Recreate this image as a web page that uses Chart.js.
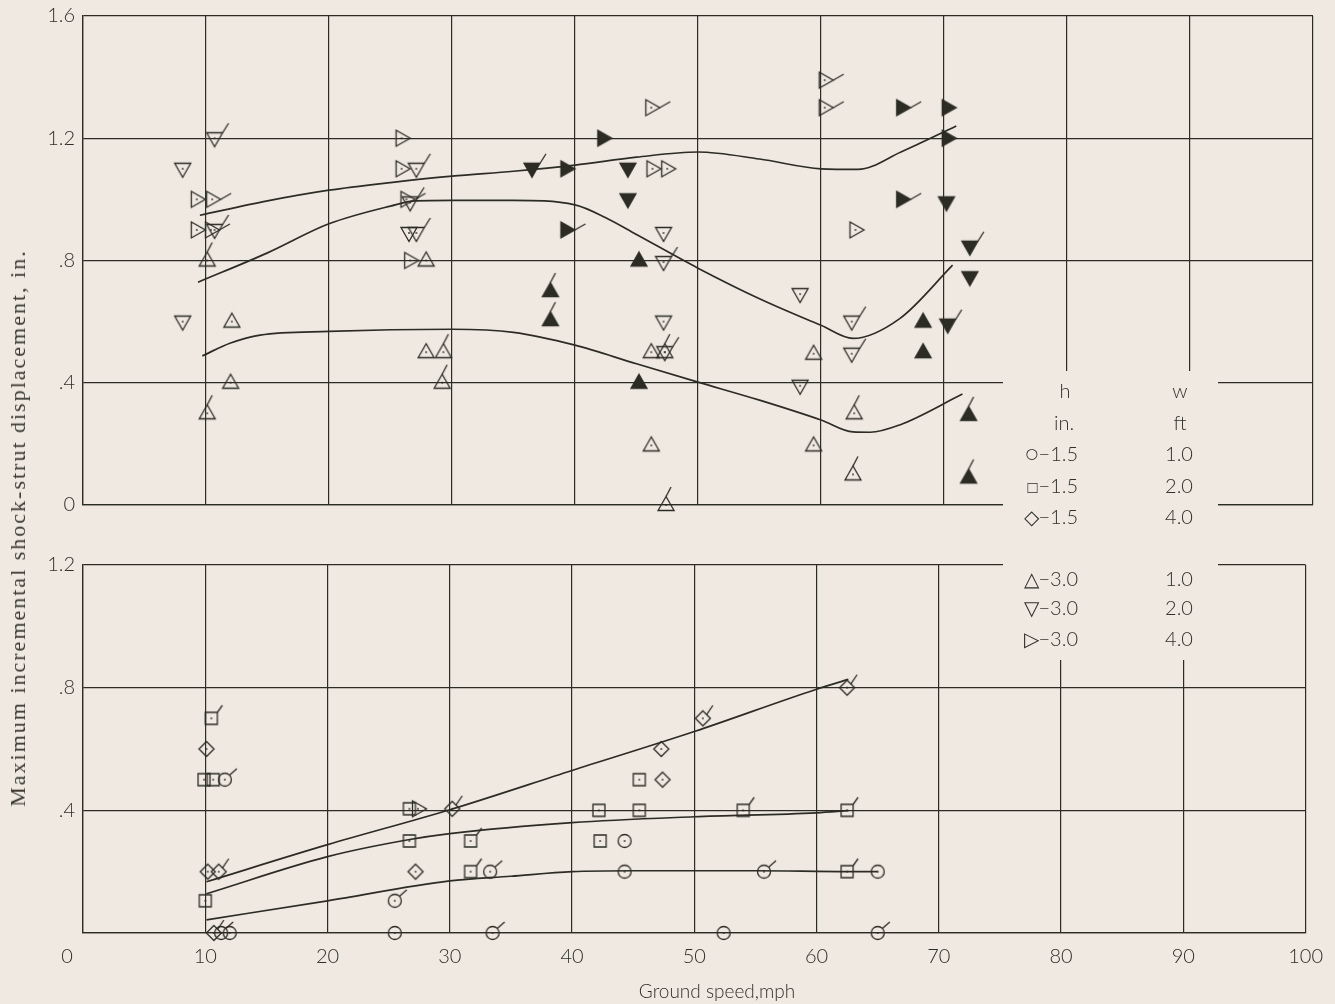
<!DOCTYPE html>
<html>
<head>
<meta charset="utf-8">
<script src="https://cdn.jsdelivr.net/npm/chart.js@4.4.1/dist/chart.umd.min.js"></script>
<style>
  html, body { margin: 0; padding: 0; background: #efe9e2; }
  #wrap { position: relative; width: 1335px; height: 1004px; overflow: hidden; }
  .box { position: absolute; left: 0; width: 1335px; }
  .t { position: absolute; font-family: Lato, 'Open Sans', sans-serif; font-weight: 300; color: #2f2f29; white-space: nowrap; }
  .c { transform: translate(-50%, -50%); }
  .r { transform: translate(-100%, -50%); }
</style>
</head>
<body>
<div id="wrap">
  <div class="box" style="top:-4px;height:529px"><canvas id="topChart"></canvas></div>
  <div class="box" style="top:540px;height:464px"><canvas id="botChart"></canvas></div>

  <div class="t c" style="left:18px;top:528px;transform:translate(-50%,-50%) rotate(-90deg);font-family:'Liberation Serif',serif;font-weight:400;font-size:22px;letter-spacing:2px;color:#3a3a33;">Maximum incremental shock-strut displacement, in.</div>
  <div class="t c" style="left:717px;top:990px;font-size:19px;">Ground speed,mph</div>
  <div class="t c" style="left:67px;top:955px;font-size:20px;">0</div>

  <div id="legend"></div>
</div>

<script>
// ---- data (mph, in.) ----
const xTickLabels   = ['', '10', '20', '30', '40', '50', '60', '70', '80', '90', '100'];
const topTickLabels = ['0', '.4', '.8', '1.2', '1.6'];
const botTickLabels = ['', '.4', '.8', '1.2'];

// upper panel, h = -3.0 in.
const triUpOpen        = [[12.1,0.6],[12.0,0.4],[27.9,0.8],[27.9,0.5],[46.2,0.5],[59.4,0.495],[46.2,0.195],[59.4,0.195]];
const triUpOpenFlag    = [[10.1,0.8],[10.1,0.3],[29.3,0.5],[29.2,0.4],[47.3,0.5],[62.7,0.3],[62.6,0.1],[47.4,0.0]];
const triUpFilled      = [[45.2,0.8],[68.3,0.6],[68.3,0.5],[45.2,0.4]];
const triUpFilledFlag  = [[38.0,0.7],[38.0,0.605],[72.0,0.295],[72.0,0.09]];
const triDnOpen        = [[8.1,1.1],[8.1,0.6],[26.5,0.89],[47.2,0.89],[58.3,0.69],[47.2,0.6],[58.3,0.39]];
const triDnOpenFlag    = [[10.7,1.2],[10.7,0.9],[27.1,1.1],[26.6,0.99],[27.1,0.89],[47.2,0.795],[62.5,0.6],[47.3,0.5],[62.5,0.495]];
const triDnFilled      = [[44.3,1.1],[44.3,1.0],[70.2,0.99],[72.1,0.745]];
const triDnFilledFlag  = [[36.5,1.1],[72.1,0.845],[70.3,0.59]];
const triRtOpen        = [[9.25,1.0],[9.25,0.9],[25.9,1.2],[25.9,1.1],[26.6,0.8],[46.3,1.1],[47.5,1.1],[62.8,0.9]];
const triRtOpenFlag    = [[10.5,1.0],[10.4,0.9],[26.3,1.0],[60.3,1.39],[60.3,1.3],[46.2,1.3]];
const triRtFilled      = [[70.3,1.3],[42.3,1.2],[70.3,1.2],[39.3,1.1]];
const triRtFilledFlag  = [[66.6,1.3],[66.6,1.0],[39.3,0.9]];

const curveA = [[9.5,0.948],[15,0.995],[20,1.03],[25,1.055],[30,1.076],[35,1.092],[40,1.112],[45,1.138],[50,1.155],[55,1.132],[60,1.10],[63,1.098],[66.5,1.155],[71,1.24]];
const curveB = [[9.35,0.729],[15,0.825],[20,0.92],[25,0.978],[27,0.995],[30,0.997],[35,0.997],[40,0.982],[42.5,0.94],[45,0.885],[50,0.775],[55,0.675],[60,0.588],[62.6,0.545],[66.4,0.61],[70.7,0.785]];
const curveC = [[9.7,0.488],[12,0.53],[14.4,0.556],[20,0.568],[30,0.575],[35,0.565],[40,0.523],[45,0.462],[50,0.402],[55,0.343],[60,0.278],[62.6,0.239],[64,0.238],[66.4,0.262],[71.5,0.363]];

// lower panel, h = -1.5 in.
const circOpen      = [[12.0,0.0],[25.5,0.0],[44.3,0.3],[44.3,0.2],[65.0,0.2],[52.4,0.0]];
const circOpenFlag  = [[11.6,0.5],[11.3,0.0],[33.3,0.2],[25.5,0.105],[33.5,0.0],[55.7,0.2],[65.0,0.0]];
const sqOpen        = [[9.9,0.5],[10.65,0.5],[10.0,0.105],[26.7,0.405],[26.7,0.3],[45.5,0.5],[42.2,0.4],[45.5,0.4],[42.3,0.3]];
const sqOpenFlag    = [[10.5,0.7],[31.7,0.3],[31.7,0.2],[54.0,0.4],[62.5,0.4],[62.5,0.2]];
const diaOpen       = [[10.1,0.6],[10.2,0.2],[27.2,0.2],[47.3,0.6],[47.4,0.5]];
const diaOpenFlag   = [[11.1,0.2],[10.7,0.0],[30.2,0.405],[62.5,0.8],[50.7,0.7]];
const triRtLower    = [[27.4,0.405]];

const curveD = [[10.1,0.167],[20,0.288],[30,0.402],[40,0.53],[50,0.657],[60,0.795],[62.6,0.827]];
const curveE = [[10.1,0.128],[20,0.249],[26.6,0.304],[30,0.324],[40,0.36],[50,0.379],[60,0.392],[62.6,0.399]];
const curveF = [[10.1,0.043],[20,0.105],[30,0.17],[35,0.185],[40,0.2],[45,0.203],[55,0.203],[62.6,0.2],[65,0.2]];

const legendRows = [
  ['\u25CB\u22121.5', '1.0', 453],
  ['\u25A1\u22121.5', '2.0', 485],
  ['\u25C7\u22121.5', '4.0', 516],
  ['\u25B3\u22123.0', '1.0', 578],
  ['\u25BD\u22123.0', '2.0', 607],
  ['\u25B7\u22123.0', '4.0', 638]
];

const BG  = '#efe9e2';
const INK = '#2c2c25';

// marker pictures, drawn once
function makeMarker(shape, filled, flag) {
  const c = document.createElement('canvas');
  c.width = 46; c.height = 46;
  const g = c.getContext('2d');
  g.translate(23, 23);
  g.strokeStyle = INK; g.fillStyle = INK; g.lineWidth = 1.3;
  g.beginPath();
  let f;
  if (shape === 'triUp') {
    g.moveTo(0,-8.5); g.lineTo(8,5.5); g.lineTo(-8,5.5); g.closePath(); f = [0,-8.5,5,-18];
  } else if (shape === 'triDn') {
    g.moveTo(-8,-5.5); g.lineTo(8,-5.5); g.lineTo(0,8.5); g.closePath(); f = [8,-5.5,14,-15];
  } else if (shape === 'triRt') {
    g.moveTo(-5.5,-8); g.lineTo(8.5,0); g.lineTo(-5.5,8); g.closePath(); f = [8.5,0,19,-6];
  } else if (shape === 'square') {
    g.rect(-6,-6,12,12); f = [6,-6,11,-13];
  } else if (shape === 'circle') {
    g.arc(0,0,6.5,0,Math.PI*2); f = [4.6,-4.6,12,-11];
  } else {
    g.moveTo(0,-7.5); g.lineTo(7.5,0); g.lineTo(0,7.5); g.lineTo(-7.5,0); g.closePath(); f = [3.7,-3.7,10,-13];
  }
  if (filled) { g.fill(); g.stroke(); }
  else { g.stroke(); g.fillRect(-0.8,-0.8,1.6,1.6); }
  if (flag) { g.beginPath(); g.moveTo(f[0], f[1]); g.lineTo(f[2], f[3]); g.stroke(); }
  return c;
}

const pts = arr => arr.map(p => ({ x: p[0], y: p[1] }));

function markers(arr, shape, filled, flag) {
  return { data: pts(arr), pointStyle: makeMarker(shape, filled, flag), pointRadius: 6, pointHoverRadius: 6,
           showLine: false, clip: false };
}
function curve(arr) {
  return { data: pts(arr), showLine: true, borderColor: INK, borderWidth: 1.7, pointRadius: 0,
           cubicInterpolationMode: 'monotone', fill: false, clip: false };
}

// blank out the grid where the key sits
const gapPlugin = {
  id: 'gap',
  beforeDatasetsDraw(chart, args, o) {
    const ctx = chart.ctx;
    ctx.save();
    ctx.fillStyle = BG;
    ctx.fillRect(o.x0, o.y0, o.x1 - o.x0, o.y1 - o.y0);
    ctx.restore();
  }
};

const tickFont = { family: 'Lato', size: 20, weight: '300' };

function baseOptions(yMax, yLabels, showX, padTop, xHeight, gap) {
  return {
    responsive: true,
    maintainAspectRatio: false,
    animation: false,
    layout: { padding: { top: padTop, right: 22, left: 0, bottom: 0 } },
    plugins: { legend: { display: false }, tooltip: { enabled: false }, gap },
    scales: {
      x: {
        type: 'linear', min: 0, max: 100,
        ticks: { stepSize: 10, display: showX, padding: 12, color: '#2f2f29', font: tickFont,
                 callback: (v, i) => xTickLabels[i] },
        grid: { color: INK, lineWidth: 1.2, drawTicks: false },
        border: { color: INK, width: 1.3 },
        afterFit: s => { s.height = xHeight; }
      },
      y: {
        min: 0, max: yMax,
        ticks: { stepSize: 0.4, padding: 8, color: '#2f2f29', font: tickFont,
                 callback: (v, i) => yLabels[i] },
        grid: { color: INK, lineWidth: 1.2, drawTicks: false },
        border: { color: INK, width: 1.3 },
        afterFit: s => { s.width = 83; }
      }
    }
  };
}

new Chart(document.getElementById('topChart'), {
  type: 'scatter',
  data: { datasets: [
    curve(curveA), curve(curveB), curve(curveC),
    markers(triUpOpen, 'triUp', false, false),
    markers(triUpOpenFlag, 'triUp', false, true),
    markers(triUpFilled, 'triUp', true, false),
    markers(triUpFilledFlag, 'triUp', true, true),
    markers(triDnOpen, 'triDn', false, false),
    markers(triDnOpenFlag, 'triDn', false, true),
    markers(triDnFilled, 'triDn', true, false),
    markers(triDnFilledFlag, 'triDn', true, true),
    markers(triRtOpen, 'triRt', false, false),
    markers(triRtOpenFlag, 'triRt', false, true),
    markers(triRtFilled, 'triRt', true, false),
    markers(triRtFilledFlag, 'triRt', true, true)
  ] },
  options: baseOptions(1.6, topTickLabels, false, 10, 12, { x0: 1003, x1: 1218, y0: 375, y1: 522 }),
  plugins: [gapPlugin]
});

new Chart(document.getElementById('botChart'), {
  type: 'scatter',
  data: { datasets: [
    curve(curveD), curve(curveE), curve(curveF),
    markers(circOpen, 'circle', false, false),
    markers(circOpenFlag, 'circle', false, true),
    markers(sqOpen, 'square', false, false),
    markers(sqOpenFlag, 'square', false, true),
    markers(diaOpen, 'diamond', false, false),
    markers(diaOpenFlag, 'diamond', false, true),
    markers(triRtLower, 'triRt', false, false)
  ] },
  options: baseOptions(1.2, botTickLabels, true, 25, 71, { x0: 1003, x1: 1218, y0: 15, y1: 120 }),
  plugins: [gapPlugin]
});

// key
const legend = document.getElementById('legend');
function addText(txt, x, y, cls) {
  const d = document.createElement('div');
  d.className = 't ' + cls;
  d.style.left = x + 'px'; d.style.top = y + 'px'; d.style.fontSize = '20px';
  d.textContent = txt;
  legend.appendChild(d);
}
addText('h', 1065, 390, 'c');
addText('w', 1180, 390, 'c');
addText('in.', 1064, 422, 'c');
addText('ft', 1180, 422, 'c');
legendRows.forEach(r => {
  addText(r[0], 1078, r[2], 'r');
  addText(r[1], 1179, r[2], 'c');
});
</script>
</body>
</html>
